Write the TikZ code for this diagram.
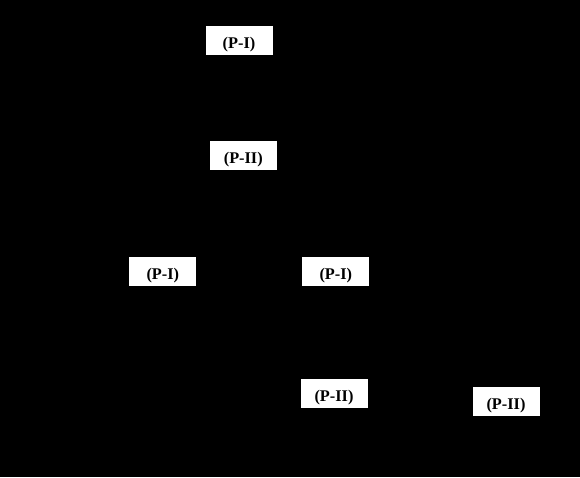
\documentclass[tikz,border=0pt]{standalone}
\usepackage{fontspec}
\setmainfont{Liberation Serif}
\begin{document}
\begin{tikzpicture}[x=1pt,y=-1pt,
  lbl/.style={fill=white,draw=none,inner sep=0pt,minimum width=67pt,minimum height=29pt,text height=16pt,text depth=0pt,font=\fontsize{16.3}{18}\selectfont\bfseries,text=black}]
\fill[black] (0,0) rectangle (580,477);
\useasboundingbox (0,0) rectangle (580,477);
\node[lbl] (a) at (239,40.8) {(P-I)};
\node[lbl] (b) at (243.3,155.7) {(P-II)};
\node[lbl] (c) at (162.8,271.8) {(P-I)};
\node[lbl] (d) at (335.8,271.8) {(P-I)};
\node[lbl] (e) at (334,393.7) {(P-II)};
\node[lbl] (f) at (506,401.3) {(P-II)};
\end{tikzpicture}
\end{document}
